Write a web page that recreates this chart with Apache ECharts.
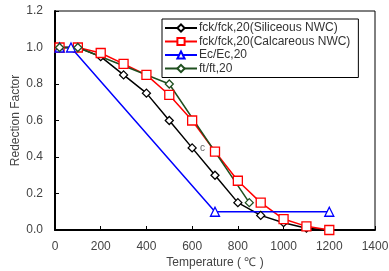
<!DOCTYPE html>
<html>
<head>
<meta charset="utf-8">
<script src="https://cdn.jsdelivr.net/npm/echarts@6/dist/echarts.min.js"></script>
<style>
  html, body { margin: 0; padding: 0; background: #fff; }
  #chart { width: 389px; height: 271px; }
</style>
</head>
<body>
<div id="chart"></div>
<script>
// data
var siliceous = [[20, 1.0], [100, 1.0], [200, 0.95], [300, 0.85], [400, 0.75], [500, 0.6], [600, 0.45],
                 [700, 0.3], [800, 0.15], [900, 0.08], [1000, 0.04], [1100, 0.01], [1200, 0]];
var calcareous = [[20, 1.0], [100, 1.0], [200, 0.97], [300, 0.91], [400, 0.85], [500, 0.74], [600, 0.6],
                  [700, 0.43], [800, 0.27], [900, 0.15], [1000, 0.06], [1100, 0.02], [1200, 0]];
var modulus = [[20, 1.0], [70, 1.0], [700, 0.1], [1200, 0.1]];
var tensile = [[20, 1.0], [100, 1.0], [500, 0.8], [850, 0.15]];
var seriesNames = ['fck/fck,20(Siliceous NWC)', 'fck/fck,20(Calcareous NWC)', 'Ec/Ec,20', 'ft/ft,20'];

var font = '"Liberation Sans", Arial, sans-serif';

function lineSeries(name, data, color, symbol, size) {
    return {
        name: name,
        type: 'line',
        data: data,
        symbol: symbol,
        symbolSize: size,
        lineStyle: { color: color, width: 1.5 },
        itemStyle: { color: '#fff', borderColor: color, borderWidth: 1.3 },
        emphasis: { disabled: true },
        animation: false
    };
}

var myChart = echarts.init(document.getElementById('chart'));
myChart.setOption({
    animation: false,
    grid: {
        left: 55, right: 14, top: 11, bottom: 41,
        outerBoundsMode: 'none',
        containLabel: false,
        show: true, borderColor: '#000', borderWidth: 1
    },
    legend: {
        left: 162, top: 19,
        orient: 'vertical',
        itemGap: 1.5,
        itemWidth: 32, itemHeight: 9,
        padding: [3, 8, 3, 2],
        backgroundColor: '#fff',
        borderColor: '#000',
        borderWidth: 1,
        borderRadius: 0,
        textStyle: { fontFamily: font, fontSize: 12, color: '#333', padding: [0, 0, 0, -3] },
        data: seriesNames
    },
    xAxis: {
        type: 'value',
        min: 0, max: 1400, interval: 200,
        name: 'Temperature ( ℃ )',
        nameLocation: 'middle',
        nameGap: 27,
        nameMoveOverlap: false,
        nameTextStyle: { fontFamily: font, fontSize: 12, color: '#444' },
        axisLine: { lineStyle: { color: '#000', width: 2 } },
        axisTick: { inside: true, length: 4, lineStyle: { color: '#000' } },
        axisLabel: {
            fontFamily: font, fontSize: 12, color: '#444', margin: 11,
            formatter: function (v) { return String(v); }
        },
        splitLine: { show: false }
    },
    yAxis: {
        type: 'value',
        min: 0, max: 1.2, interval: 0.2,
        name: 'Redection Factor',
        nameLocation: 'middle',
        nameGap: 33,
        nameMoveOverlap: false,
        nameTextStyle: { fontFamily: font, fontSize: 12, color: '#444' },
        axisLine: { lineStyle: { color: '#000', width: 2 } },
        axisTick: { inside: true, length: 4, lineStyle: { color: '#000' } },
        axisLabel: {
            fontFamily: font, fontSize: 12, color: '#444', margin: 12,
            formatter: function (v) { return v.toFixed(1); }
        },
        splitLine: { show: false }
    },
    graphic: [{
        type: 'text', left: 200, top: 143,
        style: { text: 'c', fontFamily: font, fontSize: 10, fill: '#666' }
    }],
    series: [
        lineSeries(seriesNames[0], siliceous, '#000000', 'diamond', 8),
        lineSeries(seriesNames[1], calcareous, '#ff0000', 'rect', 9),
        lineSeries(seriesNames[2], modulus, '#0000ff', 'triangle', 9),
        lineSeries(seriesNames[3], tensile, '#1f4f1f', 'diamond', 8)
    ]
});
</script>
</body>
</html>
